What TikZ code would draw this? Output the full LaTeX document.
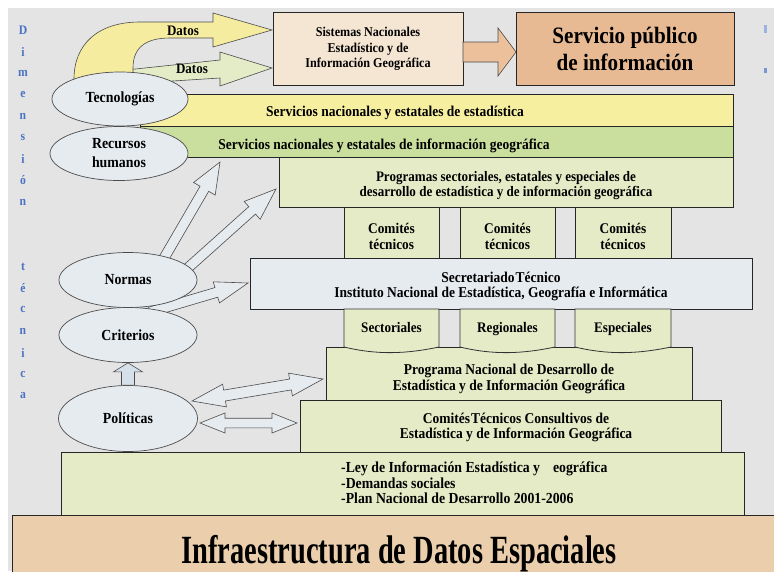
\documentclass[tikz,border=0pt]{standalone}
\usepackage{fontspec}
\setmainfont{Liberation Serif}[FakeStretch=0.9]
\usepackage{graphicx}
\usetikzlibrary{calc,shapes.geometric}

\definecolor{bggray}{HTML}{E4E4E4}
\definecolor{peach}{HTML}{F5E6D3}
\definecolor{tanbox}{HTML}{E8BA93}
\definecolor{tanarr}{HTML}{EBC09A}
\definecolor{yelarr}{HTML}{F5ECA0}
\definecolor{grnarr}{HTML}{E3ECC7}
\definecolor{ellf}{HTML}{E6EBF0}
\definecolor{yelband}{HTML}{F7EFA0}
\definecolor{grnband}{HTML}{CADE9E}
\definecolor{lgreen}{HTML}{E4EBC6}
\definecolor{orangeb}{HTML}{EBCFAC}
\definecolor{dimblue}{HTML}{4B73C4}
\definecolor{uparr}{HTML}{D5E0EA}

\newcommand\myfs[2]{\fontsize{#1}{#2}\selectfont}

% block arrow: #1 style, #2 from, #3 to, #4 body half width, #5 head half width, #6 head length
\newcommand\blockarrow[6]{%
  \coordinate (bah) at ($(#3)!#6!(#2)$);
  \draw[#1] ($(#2)!#4!90:(#3)$) -- ($(bah)!#4!-90:(#2)$) -- ($(bah)!#5!-90:(#2)$) -- (#3)
    -- ($(bah)!#5!90:(#2)$) -- ($(bah)!#4!90:(#2)$) -- ($(#2)!#4!-90:(#3)$) -- cycle;
}
% double block arrow
\newcommand\dblarrow[6]{%
  \coordinate (dah1) at ($(#2)!#6!(#3)$);
  \coordinate (dah2) at ($(#3)!#6!(#2)$);
  \draw[#1] (#2) -- ($(dah1)!#5!90:(#3)$) -- ($(dah1)!#4!90:(#3)$) -- ($(dah2)!#4!-90:(#2)$)
    -- ($(dah2)!#5!-90:(#2)$) -- (#3) -- ($(dah2)!#5!90:(#2)$) -- ($(dah2)!#4!90:(#2)$)
    -- ($(dah1)!#4!-90:(#3)$) -- ($(dah1)!#5!-90:(#3)$) -- cycle;
}
% document-like box with wavy bottom
\newcommand\docbox[2]{%
  \draw[docb] (#1,309) -- (#2,309) -- (#2,347)
    .. controls ({#1+0.65*(#2-#1)},354) and ({#1+0.35*(#2-#1)},355) .. (#1,347) -- cycle;
}

\tikzset{
  lbl/.style={font=\myfs{15}{16}\bfseries, inner sep=0pt, align=center},
  box/.style={draw=black!85, line width=0.8pt, inner sep=0pt, anchor=north west,
              align=center, font=\myfs{15}{16}\bfseries},
  docb/.style={draw=black!80, line width=0.8pt, fill=lgreen},
  ell/.style={ellipse, draw=black!70, line width=0.7pt, fill=ellf, inner sep=0pt,
              align=center, font=\myfs{15.4}{19}\bfseries},
  barrow/.style={draw=black!70, line width=0.6pt, fill=ellf, line join=miter},
  dimtext/.style={font=\myfs{13}{13}\bfseries, text=dimblue, inner sep=0pt},
}

\begin{document}
\begin{tikzpicture}[x=1pt,y=-1pt]
\useasboundingbox (0,0) rectangle (774,571);
\clip (0,0) rectangle (774,571);
\fill[white] (0,0) rectangle (774,571);
\fill[bggray] (8,8) rectangle (774,571);

% vertical label
\foreach \l [count=\i from 0] in {D,i,m,e,n,s,i,ó,n}
  \node[dimtext] (dimA\i) at (23,{30+21.5*\i}) {\l};
\foreach \l [count=\i from 11] in {t,é,c,n,i,c,a}
  \node[dimtext] (dimB\i) at (23,{30+21.5*\i}) {\l};
\fill[dimblue!55] (764,25) rectangle (767,33);
\fill[dimblue!75] (764,68) rectangle (767,73);

% Datos arrows
\draw[draw=black!70, line width=0.6pt, fill=grnarr, line join=miter]
  (126,70) -- (220,60) -- (220,52) -- (272,68) -- (220,86) -- (220,78) -- (126,84) -- cycle;
\draw[draw=black!70, line width=0.6pt, fill=yelarr, line join=miter]
  (74,95) -- (74,79) .. controls (74,45) and (97,22) .. (140,22) -- (213,22) -- (213,13)
  -- (272,30) -- (213,47) -- (213,38) -- (170,38) .. controls (145,38) and (133,48) .. (133,68)
  -- (133,95) -- cycle;
\node[lbl, font=\myfs{14.5}{15}\bfseries] (dat1) at (183,31) {Datos};
\node[lbl, font=\myfs{14.5}{15}\bfseries] (dat2) at (192,69) {Datos};

% top boxes
\node[box, fill=peach, minimum width=190pt, minimum height=73pt] (sis) at (273,12) {};
\node[lbl, font=\myfs{13.5}{15.5}\bfseries] (sist) at (368,49)
  {Sistemas Nacionales\\Estadístico y de\\Información Geográfica};
\node[box, fill=tanbox, minimum width=218pt, minimum height=73pt] (ser) at (516,12) {};
\node[lbl, font=\myfs{23.5}{27}\bfseries] (sert) at (625,49) {Servicio público\\de información};
\coordinate (s1) at (463,52);
\coordinate (s2) at (516,52);
\blockarrow{draw=black!70, line width=0.6pt, fill=tanarr, line join=miter}{s1}{s2}{10pt}{24pt}{18pt}

% bands
\node[box, fill=yelband, minimum width=593pt, minimum height=32pt] (yb) at (140,94) {};
\node[box, fill=grnband, minimum width=593pt, minimum height=31pt] (gb) at (140,126) {};
\node[lbl, anchor=base] (ybt) at (395,116.5) {Servicios nacionales y estatales de estadística};
\node[lbl, anchor=base] (gbt) at (384,149) {Servicios nacionales y estatales de información geográfica};

% programas
\node[box, fill=lgreen, minimum width=454pt, minimum height=50pt] (prog) at (279,157) {};
\node[lbl, font=\myfs{14.5}{15}\bfseries] (progt) at (506,185.5)
  {Programas sectoriales, estatales y especiales de\\desarrollo de estadística y de información geográfica};

% comites
\node[box, fill=lgreen, minimum width=95pt, minimum height=51pt] (com1) at (344,207) {};
\node[box, fill=lgreen, minimum width=95pt, minimum height=51pt] (com2) at (460,207) {};
\node[box, fill=lgreen, minimum width=96pt, minimum height=51pt] (com3) at (575,207) {};
\foreach \c/\x in {1/391.5,2/507.5,3/623}
  \node[lbl, font=\myfs{14.8}{16}\bfseries] (com\c t) at (\x,236) {Comités\\técnicos};

% secretariado
\node[box, fill=ellf, minimum width=502pt, minimum height=51pt] (sec) at (250,258) {};
\node[lbl, font=\myfs{15}{15}\bfseries] (sect) at (501,286)
  {Secretariado\kern1pt Técnico\\Instituto Nacional de Estadística, Geografía e Informática};

% programa nacional
\node[box, fill=lgreen, minimum width=366pt, minimum height=53pt] (pn) at (326,347) {};
\node[lbl] (pnt) at (509,378.5)
  {Programa Nacional de Desarrollo de\\Estadística y de Información Geográfica};

% sectoriales etc.
\docbox{344}{439}
\docbox{460}{555}
\docbox{575}{671}
\node[lbl, anchor=base, font=\myfs{14.6}{15}\bfseries] (sct) at (391.5,332) {Sectoriales};
\node[lbl, anchor=base, font=\myfs{14.6}{15}\bfseries] (rgt) at (507.5,332) {Regionales};
\node[lbl, anchor=base, font=\myfs{14.6}{15}\bfseries] (est) at (623,332) {Especiales};

% comites tecnicos consultivos
\node[box, fill=lgreen, minimum width=421pt, minimum height=53pt] (ctc) at (300,400) {};
\node[lbl, font=\myfs{15}{15}\bfseries] (ctct) at (516,427)
  {Comités\kern1pt Técnicos Consultivos de\\Estadística y de Información Geográfica};

% ley
\node[box, fill=lgreen, minimum width=683pt, minimum height=63pt] (ley) at (61,452) {};
\node[lbl, anchor=base west, font=\myfs{15.3}{15}\bfseries] (ley1) at (341,472)
  {-Ley de Información Estadística y\hspace*{13pt}eográfica};
\node[lbl, anchor=base west, font=\myfs{15.3}{15}\bfseries] (ley2) at (341,488) {-Demandas sociales};
\node[lbl, anchor=base west, font=\myfs{15.3}{15}\bfseries] (ley3) at (341,503.5) {-Plan Nacional de Desarrollo 2001-2006};

% infraestructura
\node[box, fill=orangeb, minimum width=790pt, minimum height=70pt] (ide) at (12,515) {};
\node[lbl, anchor=base, font=\myfs{40}{40}\bfseries] (idet) at (399,563)
  {\scalebox{0.79}[1]{Infraestructura de Datos Espaciales}};

% arrows from Normas / Politicas
\coordinate (nA1) at (160,265);
\coordinate (nA2) at (220,162);
\coordinate (nB1) at (180,275);
\coordinate (nB2) at (276,189);
\coordinate (nC1) at (150,312);
\coordinate (nC2) at (248,283);
\blockarrow{barrow}{nA1}{nA2}{5pt}{12.5pt}{31pt}
\blockarrow{barrow}{nB1}{nB2}{5pt}{12pt}{32pt}
\blockarrow{barrow}{nC1}{nC2}{5pt}{11pt}{33pt}

\coordinate (d1a) at (192,401);
\coordinate (d1b) at (323,379);
\coordinate (d2a) at (200,423);
\coordinate (d2b) at (297,423);
\dblarrow{barrow}{d1a}{d1b}{5.5pt}{11.5pt}{33pt}
\dblarrow{barrow}{d2a}{d2b}{4.8pt}{10pt}{25pt}

% ellipses
\node[ell, minimum width=136pt, minimum height=54pt] (tec) at (120,99) {Tecnologías};
\node[ell, minimum width=138pt, minimum height=54pt] (rec) at (119,153.5) {Recursos\\humanos};
\node[ell, minimum width=138pt, minimum height=55pt] (nor) at (128,280) {Normas};
\node[ell, minimum width=138pt, minimum height=55pt] (cri) at (128,335) {Criterios};
\node[ell, minimum width=139pt, minimum height=66pt] (pol) at (128,418.5) {Políticas};

\blockarrow{draw=black!70, line width=0.6pt, fill=uparr, line join=miter}{pol.north}{cri.south}{6.5pt}{14.5pt}{9pt}
\end{tikzpicture}
\end{document}
